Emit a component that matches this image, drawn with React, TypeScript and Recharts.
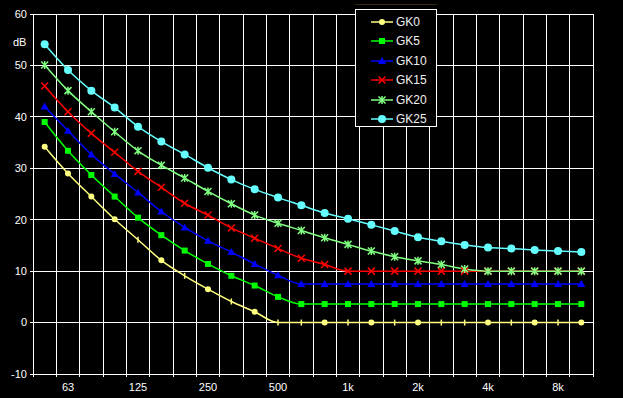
import { LineChart, Line, XAxis, YAxis, CartesianGrid } from 'recharts';

const freqs = ['50', '63', '80', '100', '125', '160', '200', '250', '315', '400', '500', '630', '800', '1k', '1.25k', '1.6k', '2k', '2.5k', '3.15k', '4k', '5k', '6.3k', '8k', '10k'];
const labelIdx = [1, 4, 7, 10, 13, 16, 19, 22];
const yTicks = [-10, 0, 10, 20, 30, 40, 50, 60];

const gk0 = [34.2, 29.0, 24.5, 20.1, 16.1, 12.1, 9.1, 6.5, 4.1, 2.1, 0, 0, 0, 0, 0, 0, 0, 0, 0, 0, 0, 0, 0, 0];
const gk5 = [39.0, 33.4, 28.7, 24.5, 20.4, 17.0, 14.0, 11.4, 9.1, 7.2, 5.0, 3.6, 3.6, 3.6, 3.6, 3.6, 3.6, 3.6, 3.6, 3.6, 3.6, 3.6, 3.6, 3.6];
const gk10 = [42.0, 37.3, 32.7, 28.9, 25.3, 21.6, 18.5, 15.9, 13.7, 11.4, 9.2, 7.5, 7.5, 7.5, 7.5, 7.5, 7.5, 7.5, 7.5, 7.5, 7.5, 7.5, 7.5, 7.5];
const gk15 = [46.0, 41.0, 36.8, 33.1, 29.4, 26.3, 23.2, 20.9, 18.4, 16.4, 14.4, 12.5, 11.3, 10, 10, 10, 10, 10, 10, 10, 10, 10, 10, 10];
const gk20 = [50.1, 45.1, 41.0, 37.1, 33.4, 30.6, 28.1, 25.5, 23.1, 20.9, 19.3, 17.9, 16.5, 15.2, 13.9, 12.8, 12.0, 11.3, 10.4, 10, 10, 10, 10, 10];
const gk25 = [54.1, 49.1, 45.1, 41.8, 38.1, 35.2, 32.7, 30.1, 27.8, 25.9, 24.3, 22.8, 21.3, 20.2, 19.0, 17.8, 16.6, 15.8, 15.1, 14.6, 14.4, 14.1, 13.9, 13.7];

// yellow markers show as dots only on some points, small ticks on the rest
const gk0Dots = [0, 1, 2, 3, 5, 7, 9, 12, 14, 16, 19, 21, 23];

const data = freqs.map((f, i) => ({
  i,
  f,
  gk0: gk0[i],
  gk5: gk5[i],
  gk10: gk10[i],
  gk15: gk15[i],
  gk20: gk20[i],
  gk25: gk25[i],
}));

const gridTicks = freqs.map((_, i) => i - 0.5).concat([freqs.length - 0.5]);

const font = 'Arial, "Liberation Sans", sans-serif';

const C0 = '#ffff80';
const C5 = '#00ff00';
const C10 = '#0000ff';
const C15 = '#ff0000';
const C20 = '#80ff80';
const C25 = '#66ffff';

function marker(kind: string, color: string, cx: number, cy: number, key?: any, idx?: number) {
  if (kind === 'gk0') {
    if (idx !== undefined && !gk0Dots.includes(idx)) {
      return <line key={key} x1={cx} x2={cx} y1={cy - 3} y2={cy + 3} stroke={color} strokeWidth={1.5} />;
    }
    return <circle key={key} cx={cx} cy={cy} r={3} fill={color} />;
  }
  if (kind === 'square') return <rect key={key} x={cx - 3} y={cy - 3} width={6} height={6} fill={color} />;
  if (kind === 'tri') return <polygon key={key} points={`${cx},${cy - 4} ${cx + 4},${cy + 3} ${cx - 4},${cy + 3}`} fill={color} />;
  if (kind === 'x')
    return (
      <path key={key} d={`M${cx - 3.5},${cy - 3.5}L${cx + 3.5},${cy + 3.5}M${cx + 3.5},${cy - 3.5}L${cx - 3.5},${cy + 3.5}`} stroke={color} strokeWidth={1.5} />
    );
  if (kind === 'star')
    return (
      <path
        key={key}
        d={`M${cx - 3.5},${cy - 3.5}L${cx + 3.5},${cy + 3.5}M${cx + 3.5},${cy - 3.5}L${cx - 3.5},${cy + 3.5}M${cx},${cy - 4}L${cx},${cy + 4}`}
        stroke={color}
        strokeWidth={1.5}
      />
    );
  return <circle key={key} cx={cx} cy={cy} r={4} fill={color} />;
}

const dotFn = (kind: string, color: string) => (p: any) => marker(kind, color, p.cx, p.cy, `${kind}-${p.index}`, p.index);

const series = [
  { key: 'gk0', name: 'GK0', color: C0, kind: 'gk0' },
  { key: 'gk5', name: 'GK5', color: C5, kind: 'square' },
  { key: 'gk10', name: 'GK10', color: C10, kind: 'tri' },
  { key: 'gk15', name: 'GK15', color: C15, kind: 'x' },
  { key: 'gk20', name: 'GK20', color: C20, kind: 'star' },
  { key: 'gk25', name: 'GK25', color: C25, kind: 'circle' },
];

function LegendBox() {
  return (
    <div
      style={{
        position: 'absolute',
        left: 355,
        top: 9,
        width: 80,
        height: 116,
        border: '1px solid #ffffff',
        background: '#000',
        fontFamily: font,
        fontSize: 12,
        color: '#f0f0f0',
      }}
    >
      {series.map((s, k) => (
        <div key={s.key} style={{ position: 'absolute', left: 15, top: 4 + k * 19.4, height: 16, display: 'flex', alignItems: 'center' }}>
          <svg width={24} height={16}>
            <line x1={0} x2={22} y1={8} y2={8} stroke={s.color} strokeWidth={1.5} />
            {marker(s.kind, s.color, 11, 8)}
          </svg>
          <span style={{ marginLeft: 1 }}>{s.name}</span>
        </div>
      ))}
    </div>
  );
}

export default function App() {
  return (
    <div style={{ position: 'fixed', left: 0, top: 0, width: 623, height: 398, background: '#000', overflow: 'hidden' }}>
      <LineChart width={623} height={398} data={data} margin={{ top: 14, right: 30, left: 0, bottom: 0 }}>
        <CartesianGrid xAxisId="g" stroke="#ffffff" strokeWidth={1} vertical horizontal shapeRendering="crispEdges" />
        <XAxis
          xAxisId="g"
          dataKey="i"
          type="number"
          domain={[-0.5, freqs.length - 0.5]}
          ticks={gridTicks}
          height={4}
          tickSize={3}
          stroke="#ffffff"
          tickFormatter={() => ''}
          interval={0}
          allowDataOverflow
          shapeRendering="crispEdges"
        />
        <XAxis
          xAxisId="lab"
          dataKey="i"
          type="number"
          domain={[-0.5, freqs.length - 0.5]}
          ticks={labelIdx}
          height={20}
          tickSize={0}
          tickMargin={5}
          axisLine={false}
          tickLine={false}
          interval={0}
          tickFormatter={(v: number) => freqs[v]}
          tick={{ fill: '#ffffff', fontSize: 11, fontFamily: font }}
          allowDataOverflow
        />
        <YAxis
          domain={[-10, 60]}
          ticks={yTicks}
          width={33}
          tickSize={3}
          tickMargin={3}
          stroke="#ffffff"
          interval={0}
          tick={{ fill: '#ffffff', fontSize: 11, fontFamily: font }}
          shapeRendering="crispEdges"
        />
        {series.map((s) => (
          <Line
            key={s.key}
            xAxisId="g"
            type="monotone"
            dataKey={s.key}
            name={s.name}
            stroke={s.color}
            strokeWidth={1.5}
            dot={dotFn(s.kind, s.color)}
            activeDot={false}
            isAnimationActive={false}
          />
        ))}
      </LineChart>
      <div style={{ position: 'absolute', left: 13, top: 36, fontFamily: font, fontSize: 11, color: '#ffffff' }}>dB</div>
      <div style={{ position: 'absolute', left: 355, top: 4, width: 82, height: 1, background: '#3a2c14' }} />
      <LegendBox />
    </div>
  );
}
